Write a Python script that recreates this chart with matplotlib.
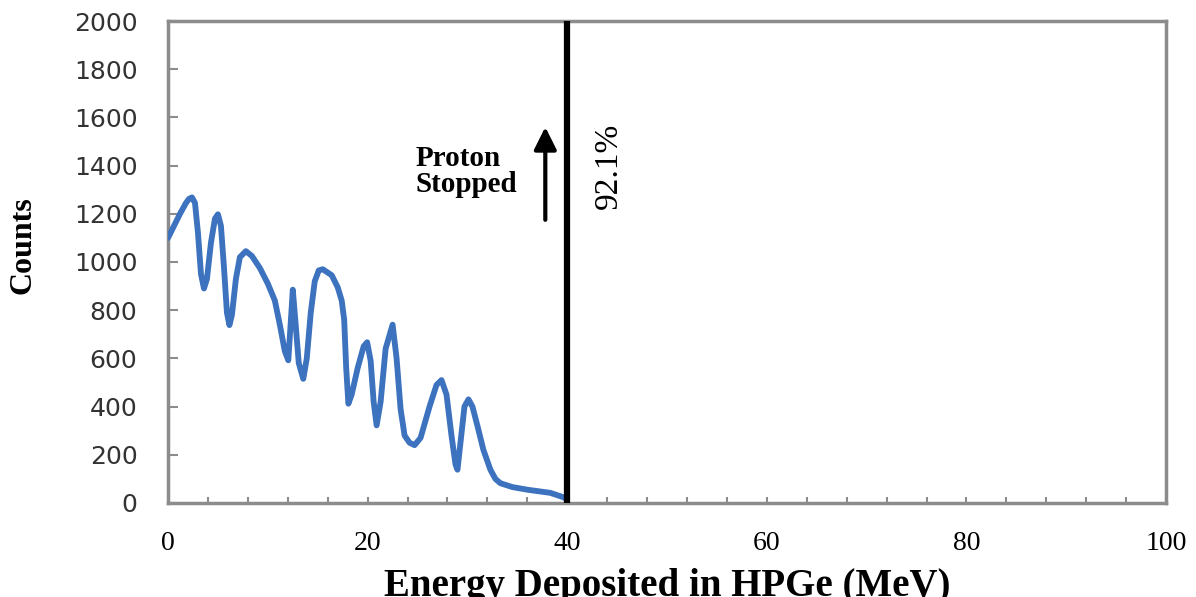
import matplotlib.pyplot as plt
from matplotlib.ticker import MultipleLocator

# Spectre
energie = [0, 0.6, 1.2, 1.8, 2.1, 2.4, 2.7, 3.0, 3.3, 3.6, 3.9, 4.3, 4.7, 5.0, 5.3, 5.6,
           5.9, 6.15, 6.4, 6.8, 7.2, 7.8, 8.4, 9.2, 10.0, 10.7, 11.2, 11.7, 12.05, 12.25,
           12.5, 12.75, 13.1, 13.55, 13.9, 14.3, 14.7, 15.1, 15.5, 16.4, 17.0, 17.4,
           17.65, 17.85, 18.07, 18.4, 19.0, 19.6, 19.95, 20.3, 20.6, 20.9, 21.3, 21.8,
           22.5, 22.9, 23.3, 23.7, 24.2, 24.7, 25.3, 26.2, 26.9, 27.4, 27.9, 28.4, 28.8,
           29.0, 29.3, 29.7, 30.1, 30.5, 31.0, 31.6, 32.3, 32.8, 33.3, 34.5, 36.0, 38.3,
           39.6, 40]
comptes = [1100, 1150, 1200, 1245, 1262, 1268, 1245, 1120, 950, 890, 930, 1080, 1180, 1198,
           1150, 980, 790, 738, 780, 930, 1020, 1045, 1025, 975, 910, 840, 740, 630, 592,
           720, 885, 760, 580, 515, 600, 790, 920, 965, 970, 945, 895, 840, 760, 560, 412,
           450, 560, 650, 667, 590, 420, 322, 420, 640, 740, 600, 390, 280, 250, 240, 270,
           400, 490, 510, 450, 280, 160, 138, 250, 400, 430, 400, 320, 220, 138, 100, 82,
           66, 55, 42, 24, 15]

x_arret = 40
fleche_x = 37.8
fleche_y = [1175, 1560]
texte_pct = "92.1%"
texte_proton = "Proton\nStopped"

cor_moldura = "#8c8c8c"

fig = plt.figure(figsize=(11.96, 5.97), dpi=100)
ax = fig.add_axes([0.1405, 0.1575, 0.8345, 0.8073])

ax.plot(energie, comptes, color="#3C72BE", linewidth=4.2,
        solid_joinstyle="round", solid_capstyle="round", zorder=3)
ax.axvline(x_arret, color="black", linewidth=4.5, zorder=4)

ax.annotate("", xy=(fleche_x, fleche_y[1]), xytext=(fleche_x, fleche_y[0]),
            arrowprops=dict(arrowstyle="-|>", color="black", lw=3,
                            mutation_scale=34, shrinkA=0, shrinkB=0))

ax.text(24.8, 1375, texte_proton, family="Liberation Serif", fontweight="bold",
        fontsize=21, ha="left", va="center", linespacing=0.95)
ax.text(44.1, 1400, texte_pct, family="Liberation Serif", fontsize=24,
        rotation=90, ha="center", va="center")

ax.set_xlim(0, 100)
ax.set_ylim(0, 2000)
ax.xaxis.set_major_locator(MultipleLocator(20))
ax.xaxis.set_minor_locator(MultipleLocator(4))
ax.yaxis.set_major_locator(MultipleLocator(200))

for s in ax.spines.values():
    s.set_color(cor_moldura)
    s.set_linewidth(2.5)

ax.tick_params(axis="x", which="both", direction="in", length=4, width=1.5,
               color=cor_moldura, pad=20, labelsize=20, top=False)
ax.tick_params(axis="y", direction="in", length=7, width=1.5,
               color=cor_moldura, pad=22, labelsize=18, right=False)
for lbl in ax.get_xticklabels():
    lbl.set_family("Liberation Serif")
for lbl in ax.get_yticklabels():
    lbl.set_family("DejaVu Sans")
    lbl.set_color("#333333")

ax.set_xlabel("Energy Deposited in HPGe (MeV)", family="Liberation Serif",
              fontweight="bold", fontsize=28)
ax.xaxis.set_label_coords(0.5, -0.135)
ax.set_ylabel("Counts", family="Liberation Serif", fontweight="bold", fontsize=23)
ax.yaxis.set_label_coords(-0.131, 0.535)

fig.savefig("out.png", dpi=100)
